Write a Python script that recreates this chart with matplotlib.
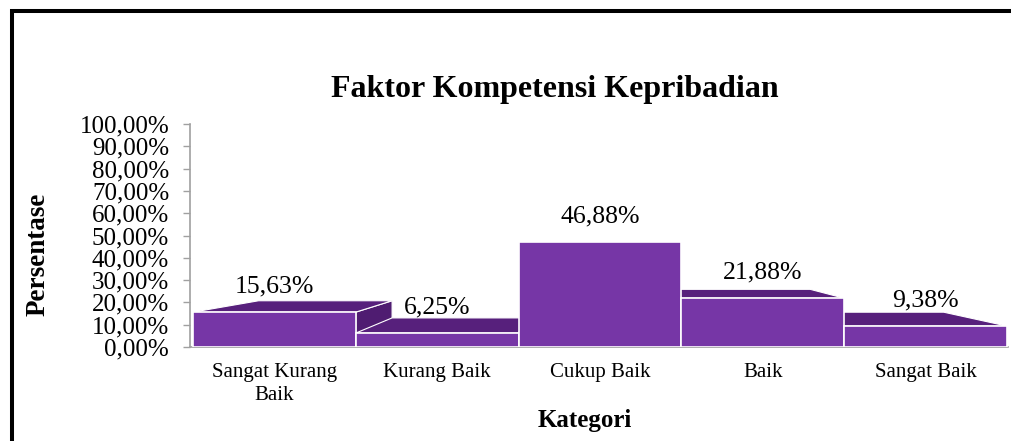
import numpy as np
import matplotlib.pyplot as plt
from matplotlib.lines import Line2D

plt.rcParams['font.family'] = 'Liberation Serif'

categories = ['Sangat Kurang\nBaik', 'Kurang Baik', 'Cukup Baik', 'Baik', 'Sangat Baik']
values = [15.63, 6.25, 46.88, 21.88, 9.38]
labels = ['15,63%', '6,25%', '46,88%', '21,88%', '9,38%']

W, H = 1011, 441
fig = plt.figure(figsize=(W / 100, H / 100), dpi=100)


def fx(px):
    return px / W


def fy(py):
    return 1 - py / H


ax = fig.add_axes([fx(190), fy(347), fx(1008) - fx(190), fy(124) - fy(347)])
ax.set_xlim(-0.518, 4.506)
ax.set_ylim(0, 100)

front_col = '#7636A6'
top_col = '#57207C'
side_col = '#4F1C71'

# rough perspective: vanishing point near the middle bar
# (slightly different x on each side, like the Excel 3D view)
yv, k = 44.0, 0.18
xv_left, xv_right = 1.74, 2.34


def proj(x, y, xv):
    return x + k * (xv - x), y + k * (yv - y)


x = np.arange(len(values))
x0s = x - 0.5
x1s = x + 0.5
mid = 2

# side faces
for xi, x0, x1, v in zip(x, x0s, x1s, values):
    xv = xv_left if xi <= mid else xv_right
    xs = x1 if xi < mid else x0
    bx, by = proj(xs, v, xv)
    bx0, by0 = proj(xs, 0, xv)
    ax.fill([xs, xs, bx, bx0], [0, v, by, by0], color=side_col,
            ec='white', lw=0.8, clip_on=False, zorder=2)

# top faces
for xi, x0, x1, v in zip(x, x0s, x1s, values):
    xv = xv_left if xi <= mid else xv_right
    px0, py0 = proj(x0, v, xv)
    px1, py1 = proj(x1, v, xv)
    ax.fill([x0, x1, px1, px0], [v, v, py1, py0], color=top_col,
            ec='white', lw=0.8, clip_on=False, zorder=3)

# front faces
ax.bar(x, values, width=1.0, color=front_col, edgecolor='white', linewidth=1.2, zorder=4)

for xi, v, lab in zip(x, values, labels):
    ax.annotate(lab, (xi, v), xytext=(0, 18.7), textcoords='offset points',
                ha='center', va='center', fontsize=18.5, zorder=5)

ax.set_yticks(np.arange(0, 101, 10))
ax.set_yticklabels([f'{t:.2f}%'.replace('.', ',') for t in np.arange(0, 101, 10)])
ax.tick_params(axis='y', labelsize=18, length=5, width=1, color='#A0A0A0', pad=10)
ax.set_xticks([])

for s in ['top', 'right']:
    ax.spines[s].set_visible(False)
for s in ['left', 'bottom']:
    ax.spines[s].set_color('#A0A0A0')
    ax.spines[s].set_linewidth(1.2)

for xi, cat in zip(x, categories):
    ax.text(xi, -7.0, cat, ha='center', va='top', fontsize=15, linespacing=1.3)

fig.text(fx(555), fy(90), 'Faktor Kompetensi Kepribadian', ha='center', va='center',
         fontsize=23, fontweight='bold')
fig.text(fx(38), fy(254), 'Persentase', ha='center', va='center', rotation=90,
         fontsize=19.5, fontweight='bold')
fig.text(fx(585), fy(420), 'Kategori', ha='center', va='center',
         fontsize=18, fontweight='bold')

fig.add_artist(Line2D([fx(12), fx(12)], [fy(9), 0], color='black', lw=2.9,
                      solid_capstyle='butt'))
fig.add_artist(Line2D([fx(10), 1], [fy(11), fy(11)], color='black', lw=2.9,
                      solid_capstyle='butt'))

fig.savefig('out.png', dpi=100)
